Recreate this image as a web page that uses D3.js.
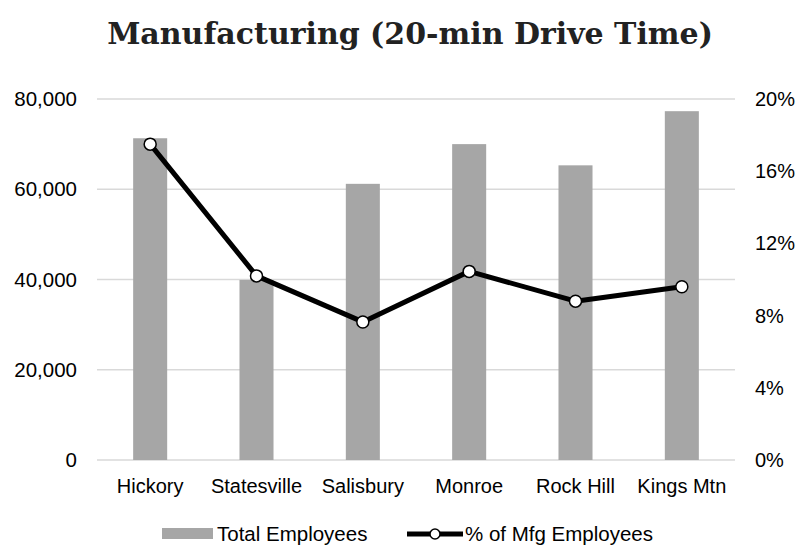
<!DOCTYPE html>
<html>
<head>
<meta charset="utf-8">
<script src="https://cdn.jsdelivr.net/npm/d3@7"></script>
<style>
  body { margin: 0; background: #fff; }
  text { font-family: "Liberation Sans", Arial, sans-serif; fill: #000; }
  .title { font-family: "DejaVu Serif", serif; font-weight: bold; fill: #222; }
</style>
</head>
<body>
<div id="chart"></div>
<script>
const cities = ["Hickory", "Statesville", "Salisbury", "Monroe", "Rock Hill", "Kings Mtn"];
const totalEmployees = [71300, 39900, 61200, 70000, 65300, 77300];
const mfgPercent = [17.5, 10.2, 7.65, 10.45, 8.8, 9.6];
const leftTicks = [0, 20000, 40000, 60000, 80000];
const rightTicks = [0, 4, 8, 12, 16, 20];

const W = 797, H = 546;
const margin = { top: 99, right: 62, bottom: 86, left: 97 };
const width = W - margin.left - margin.right;
const height = H - margin.top - margin.bottom;

const svg = d3.select("#chart").append("svg")
    .attr("width", W)
    .attr("height", H);

svg.append("text")
    .attr("class", "title")
    .attr("x", 410)
    .attr("y", 44)
    .attr("text-anchor", "middle")
    .style("font-size", "30px")
    .text("Manufacturing (20-min Drive Time)");

const g = svg.append("g")
    .attr("transform", "translate(" + margin.left + "," + margin.top + ")");

const x = d3.scaleBand()
    .domain(cities)
    .range([0, width])
    .paddingInner(0.68)
    .paddingOuter(0.34);

const y = d3.scaleLinear().domain([0, 80000]).range([height, 0]);
const y2 = d3.scaleLinear().domain([0, 20]).range([height, 0]);

// gridlines
g.selectAll(".grid")
    .data(leftTicks)
    .enter()
    .append("line")
    .attr("x1", 0)
    .attr("x2", width)
    .attr("y1", d => y(d))
    .attr("y2", d => y(d))
    .attr("stroke", "#d9d9d9")
    .attr("stroke-width", 1.5);

// left axis
const yAxis = g.append("g")
    .call(d3.axisLeft(y).tickValues(leftTicks).tickSize(0).tickPadding(20)
        .tickFormat(d3.format(",")));
yAxis.select(".domain").remove();
yAxis.selectAll("text").style("font-size", "20.5px").attr("font-family", null);

// right axis
const y2Axis = g.append("g")
    .attr("transform", "translate(" + width + ",0)")
    .call(d3.axisRight(y2).tickValues(rightTicks).tickSize(0).tickPadding(20)
        .tickFormat(d => d + "%"));
y2Axis.select(".domain").remove();
y2Axis.selectAll("text").style("font-size", "20px").attr("font-family", null);

// x axis
const xAxis = g.append("g")
    .attr("transform", "translate(0," + height + ")")
    .call(d3.axisBottom(x).tickSize(0).tickPadding(19));
xAxis.select(".domain").remove();
xAxis.selectAll("text").style("font-size", "20px").attr("font-family", null);

// bars
g.selectAll(".bar")
    .data(totalEmployees)
    .enter()
    .append("rect")
    .attr("class", "bar")
    .attr("x", (d, i) => x(cities[i]))
    .attr("y", d => y(d))
    .attr("width", x.bandwidth())
    .attr("height", d => height - y(d))
    .attr("fill", "#a6a6a6");

// line
const line = d3.line()
    .x((d, i) => x(cities[i]) + x.bandwidth() / 2)
    .y(d => y2(d));

g.append("path")
    .datum(mfgPercent)
    .attr("d", line)
    .attr("fill", "none")
    .attr("stroke", "#000")
    .attr("stroke-width", 5)
    .attr("stroke-linejoin", "round");

g.selectAll(".dot")
    .data(mfgPercent)
    .enter()
    .append("circle")
    .attr("cx", (d, i) => x(cities[i]) + x.bandwidth() / 2)
    .attr("cy", d => y2(d))
    .attr("r", 6)
    .attr("fill", "#fff")
    .attr("stroke", "#000")
    .attr("stroke-width", 1.5);

// legend
const legend = svg.append("g").attr("transform", "translate(0,541)");
legend.append("rect")
    .attr("x", 162)
    .attr("y", -13)
    .attr("width", 51)
    .attr("height", 11)
    .attr("fill", "#a6a6a6");
legend.append("text")
    .attr("x", 217)
    .attr("y", 0)
    .style("font-size", "20.5px")
    .text("Total Employees");
legend.append("line")
    .attr("x1", 407)
    .attr("x2", 463)
    .attr("y1", -7)
    .attr("y2", -7)
    .attr("stroke", "#000")
    .attr("stroke-width", 5);
legend.append("circle")
    .attr("cx", 435)
    .attr("cy", -7)
    .attr("r", 5)
    .attr("fill", "#fff")
    .attr("stroke", "#000")
    .attr("stroke-width", 1.5);
legend.append("text")
    .attr("x", 465)
    .attr("y", 0)
    .style("font-size", "20.5px")
    .text("% of Mfg Employees");
</script>
</body>
</html>
